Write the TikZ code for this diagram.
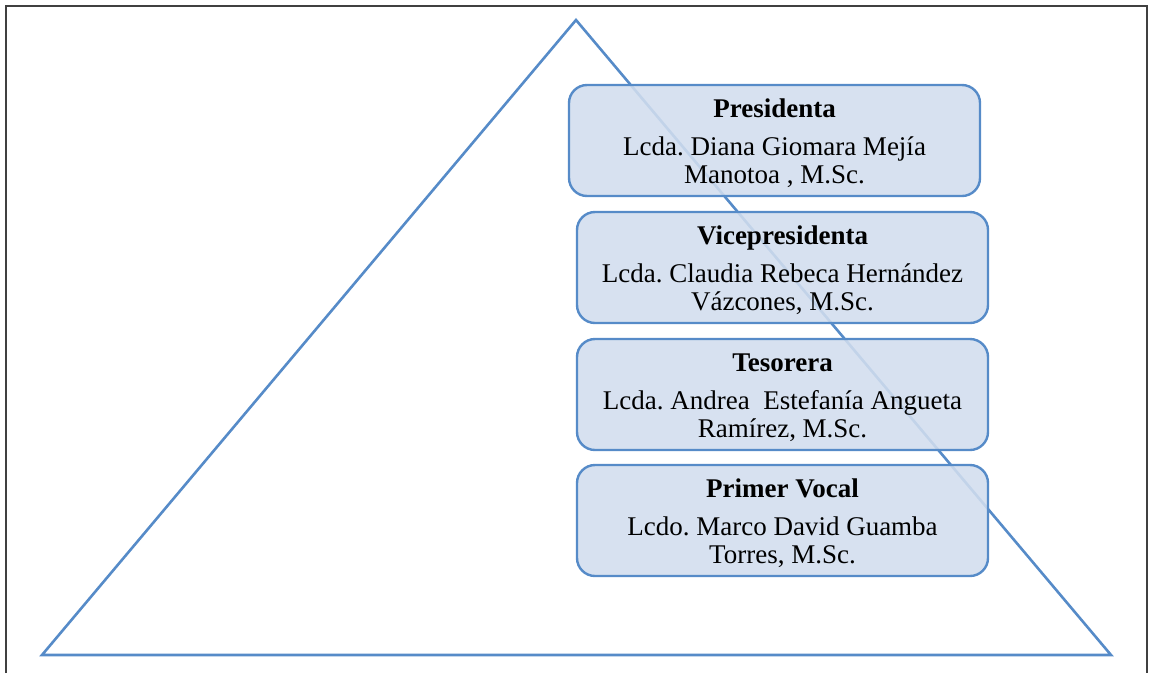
\documentclass[tikz,border=0pt]{standalone}
\usepackage{fontspec}
\setmainfont{Liberation Serif}
\usepackage{tikz}
\usetikzlibrary{positioning}

\definecolor{lineblue}{RGB}{86,139,200}
\definecolor{boxfill}{RGB}{209,221,238}
\definecolor{framegray}{RGB}{64,64,64}

\newcommand{\cargotitle}[1]{\rule{0pt}{25pt}\textbf{#1}\\[9pt]}

\tikzset{
	cargo/.style = {draw = lineblue, line width = 2.4pt, fill = boxfill,
		fill opacity = 0.88, text opacity = 1, rounded corners = 18pt,
		minimum width = 411pt, minimum height = 111pt, inner sep = 0pt,
		align = center, font = \fontsize{27}{28.5}\selectfont\frenchspacing}
}

\begin{document}
\begin{tikzpicture}[x = 1pt, y = -1pt]
			%\draw[help lines] (0,0) grid (1150,673);
			\useasboundingbox (0, 0) rectangle (1150, 673);
			\draw[framegray, line width = 2pt] (6, 673) -- (6, 6) -- (1147, 6) -- (1147, 673);
			
			\draw[lineblue, line width = 2.6pt, line join = miter] (576, 20) -- (42, 655) -- (1111, 655) -- cycle;
			
			\node[cargo] (pres) at (774.5, 140.5) {\cargotitle{Presidenta}Lcda. Diana Giomara Mejía\\Manotoa , M.Sc.};
			\node[cargo] (vice) at (782.5, 267.5) {\cargotitle{Vicepresidenta}Lcda. Claudia Rebeca Hernández\\Vázcones, M.Sc.};
			\node[cargo] (teso) at (782.5, 394.5) {\cargotitle{Tesorera}Lcda. Andrea\ \ Estefanía Angueta\\Ramírez, M.Sc.};
			\node[cargo] (vocal) at (782.5, 520.5) {\cargotitle{Primer Vocal}Lcdo. Marco David Guamba\\Torres, M.Sc.};
			
		\end{tikzpicture}
\end{document}
